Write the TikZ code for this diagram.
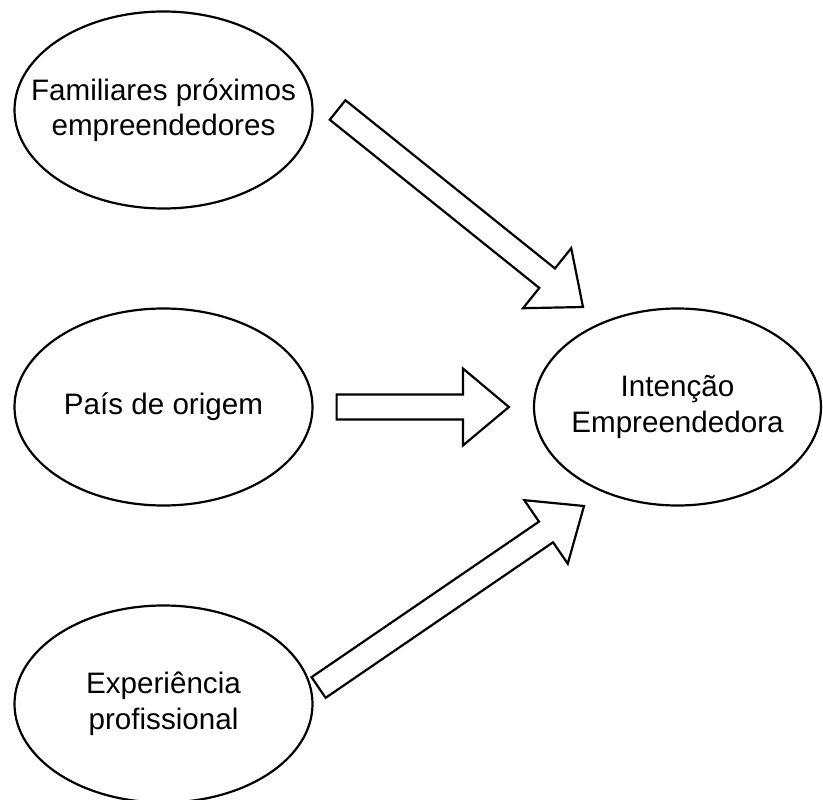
\documentclass[tikz,border=0pt]{standalone}
\usepackage{fontspec}
\setmainfont{Liberation Sans}
\usetikzlibrary{positioning,calc,shapes.geometric}

\begin{document}
\begin{tikzpicture}[x=1pt, y=-1pt, node distance=297pt, on grid,
    line width=2.2pt, font=\fontsize{29.6}{35.5}\selectfont,
    factor/.style={ellipse, draw, align=center, inner xsep=-30pt,
      minimum width=298pt, minimum height=197pt},
    fatarrow/.style={draw, line join=miter, to path={
        ($(\tikztotarget)!46pt!(\tikztostart)$) coordinate (hb)
        ($(\tikztostart)!12.5pt!90:(\tikztotarget)$)
        -- ($(hb)!12.5pt!90:(\tikztotarget)$)
        -- ($(hb)!38.5pt!90:(\tikztotarget)$)
        -- (\tikztotarget)
        -- ($(hb)!38.5pt!-90:(\tikztotarget)$)
        -- ($(hb)!12.5pt!-90:(\tikztotarget)$)
        -- ($(\tikztostart)!12.5pt!-90:(\tikztotarget)$) -- cycle}}]
  \useasboundingbox (0,0) rectangle (823,800);
  \node[factor] (fam) at (163.5,110) {Familiares próximos\\empreendedores};%
  \node[factor] (pais) [below=of fam] {País de origem};%
  \node[factor] (exp) [below=of pais] {Experiência\\profissional};%
  \node[factor, minimum width=287pt] (int) [right=514pt of pais]
  {Intenção\\Empreendedora};%
  % arrow ends
  \coordinate (famout) at ($(fam.east)+(24,0)$);
  \coordinate (inttop) at ($(int)+(-94.5,-100)$);
  \coordinate (paisout) at ($(pais.east)+(23,0)$);
  \coordinate (intleft) at ($(int.west)+(-24,0)$);
  \coordinate (expout) at ($(exp.east)+(5,-16.5)$);
  \coordinate (intbot) at ($(int)+(-93.5,99)$);
  \draw[fatarrow] (famout) to (inttop);
  \draw[fatarrow] (paisout) to (intleft);
  \draw[fatarrow] (expout) to (intbot);
\end{tikzpicture}
\end{document}
